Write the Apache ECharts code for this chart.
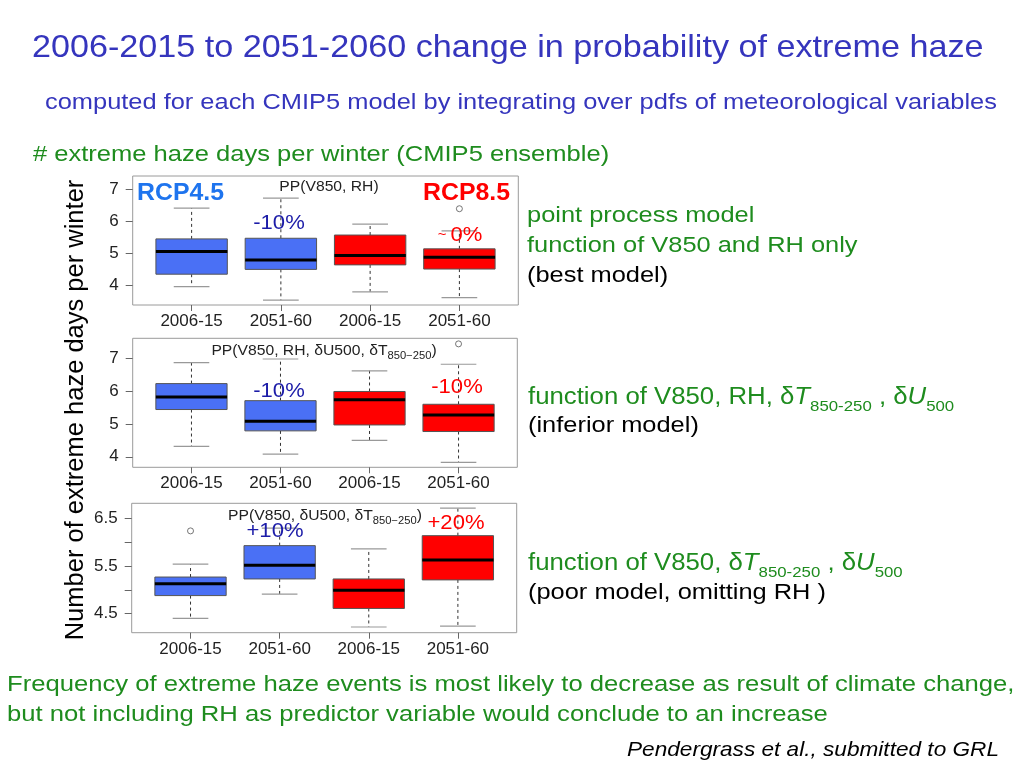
<!DOCTYPE html>
<html>
<head>
<meta charset="utf-8">
<script src="https://cdn.jsdelivr.net/npm/echarts@6/dist/echarts.min.js"></script>
<style>html,body{margin:0;padding:0;background:#fff}#c{width:1024px;height:768px}</style>
</head>
<body>
<div id="c"></div>
<script>
// ---- data ----
const categories = ['2006-15', '2051-60', '2006-15', '2051-60'];
const positions = [1, 2, 3, 4];
// each box: [min, q1, median, q3, max]
const panel1Stats = [[3.97, 4.36, 5.07, 5.46, 6.42], [3.55, 4.51, 4.80, 5.48, 6.73], [3.81, 4.65, 4.94, 5.58, 5.92], [3.63, 4.52, 4.89, 5.15, 5.71]];
const panel2Stats = [[4.32, 5.44, 5.82, 6.23, 6.87], [4.08, 4.79, 5.08, 5.71, 6.98], [4.50, 4.97, 5.74, 5.99, 6.62], [3.83, 4.77, 5.27, 5.60, 6.82]];
const panel3Stats = [[4.40, 4.88, 5.13, 5.27, 5.54], [4.91, 5.23, 5.52, 5.93, 6.30], [4.22, 4.61, 4.99, 5.23, 5.86], [4.24, 5.21, 5.63, 6.14, 6.72]];
const panel1Outliers = [[4, 6.40]];
const panel2Outliers = [[4, 7.44]];
const panel3Outliers = [[1, 6.24]];
const panel1Ticks = [4, 5, 6, 7];
const panel2Ticks = [4, 5, 6, 7];
const panel3Ticks = [4.5, 5, 5.5, 6, 6.5];
const panel3Labels = [4.5, 5.5, 6.5];
const changeLabels = [['-10%', '~ 0%'], ['-10%', '-10%'], ['+10%', '+20%']];

// ---- style ----
const BLUE = '#4a70f5', RED = '#ff0000';
const GREEN = '#1e8c1e', TITLE = '#3535bd', DBLUE = '#1c1ca8';
const FF = "'Liberation Sans', Arial, Helvetica, sans-serif";
const SX = 1.12;

const chart = echarts.init(document.getElementById('c'), null, {renderer: 'canvas'});

function renderBox(params, api) {
  const x = api.value(0);
  const mn = api.value(1), q1 = api.value(2), md = api.value(3), q3 = api.value(4), mx = api.value(5);
  const w = api.size([0.8, 0])[0];
  const half = w / 2, cap = w / 4;
  const pMin = api.coord([x, mn]), pQ1 = api.coord([x, q1]), pMd = api.coord([x, md]);
  const pQ3 = api.coord([x, q3]), pMax = api.coord([x, mx]);
  const cx = pMd[0];
  const color = api.visual('color');
  const dash = {stroke: '#333', lineWidth: 1, lineDash: [3, 3]};
  const capS = {stroke: '#999', lineWidth: 1.2};
  return {
    type: 'group',
    children: [
      {type: 'line', shape: {x1: cx, y1: pQ3[1], x2: cx, y2: pMax[1]}, style: dash},
      {type: 'line', shape: {x1: cx, y1: pQ1[1], x2: cx, y2: pMin[1]}, style: dash},
      {type: 'line', shape: {x1: cx - cap, y1: pMax[1], x2: cx + cap, y2: pMax[1]}, style: capS},
      {type: 'line', shape: {x1: cx - cap, y1: pMin[1], x2: cx + cap, y2: pMin[1]}, style: capS},
      {type: 'rect', shape: {x: cx - half, y: pQ3[1], width: w, height: pQ1[1] - pQ3[1]},
        style: {fill: color, stroke: '#555', lineWidth: 1}},
      {type: 'line', shape: {x1: cx - half, y1: pMd[1], x2: cx + half, y2: pMd[1]},
        style: {stroke: '#000', lineWidth: 3}}
    ]
  };
}

const grids = [
  {left: 132.7, top: 176, width: 385.6, height: 129},
  {left: 132.7, top: 338.3, width: 384.6, height: 129},
  {left: 131.7, top: 503.3, width: 385, height: 129.4}
];
const yRanges = [[3.40, 7.42], [3.68, 7.61], [4.10, 6.82]];
const yTicks = [panel1Ticks, panel2Ticks, panel3Ticks];
const yLabels = [panel1Ticks, panel2Ticks, panel3Labels];
const stats = [panel1Stats, panel2Stats, panel3Stats];
const outliers = [panel1Outliers, panel2Outliers, panel3Outliers];

const option = {
  animation: false,
  backgroundColor: '#fff',
  grid: grids.map(g => Object.assign({show: true, borderColor: '#9a9a9a', borderWidth: 1, backgroundColor: 'transparent'}, g)),
  xAxis: grids.map((g, i) => ({
    type: 'value', gridIndex: i, min: 0.34, max: 4.66,
    axisLine: {show: false},
    splitLine: {show: false},
    axisTick: {show: true, length: 6, customValues: positions, lineStyle: {color: '#666'}},
    axisLabel: {customValues: positions, formatter: v => categories[Math.round(v) - 1],
      fontSize: 17, color: '#222', fontFamily: FF, margin: 8}
  })),
  yAxis: grids.map((g, i) => ({
    type: 'value', gridIndex: i, min: yRanges[i][0], max: yRanges[i][1],
    axisLine: {show: false},
    splitLine: {show: false},
    axisTick: {show: true, length: 7, customValues: yTicks[i], lineStyle: {color: '#666'}},
    axisLabel: {customValues: yLabels[i], fontSize: 17, color: '#222', fontFamily: FF, margin: 14}
  })),
  series: []
};

stats.forEach((s, i) => {
  option.series.push({
    type: 'custom', xAxisIndex: i, yAxisIndex: i, renderItem: renderBox,
    itemStyle: {color: BLUE},
    data: s.slice(0, 2).map((b, j) => [positions[j]].concat(b))
  });
  option.series.push({
    type: 'custom', xAxisIndex: i, yAxisIndex: i, renderItem: renderBox,
    itemStyle: {color: RED},
    data: s.slice(2, 4).map((b, j) => [positions[j + 2]].concat(b))
  });
  option.series.push({
    type: 'scatter', xAxisIndex: i, yAxisIndex: i, symbol: 'circle', symbolSize: 6,
    itemStyle: {color: 'rgba(0,0,0,0)', borderColor: '#555', borderWidth: 1},
    data: outliers[i]
  });
});

function txt(x, y, text, opt) {
  opt = opt || {};
  return {
    type: 'text', x: x, y: y, scaleX: opt.scaleX !== undefined ? opt.scaleX : SX,
    rotation: opt.rotation || 0, z: 100,
    style: Object.assign({
      text: text, fill: opt.fill || '#000', fontSize: opt.fontSize || 23,
      fontFamily: FF, fontWeight: opt.fontWeight || 'normal', fontStyle: opt.fontStyle || 'normal',
      align: opt.align || 'left', verticalAlign: 'middle',
      textAlign: opt.align || 'left', textVerticalAlign: 'middle'
    }, opt.rich ? {rich: opt.rich} : {})
  };
}

function subRich(fill, size, subSize) {
  return {
    n: {fill: fill, color: fill, fontSize: size, fontFamily: FF, lineHeight: Math.round(size * 1.4)},
    i: {fill: fill, color: fill, fontSize: size, fontFamily: FF, fontStyle: 'italic', lineHeight: Math.round(size * 1.4)},
    s: {fill: fill, color: fill, fontSize: subSize, fontFamily: FF, lineHeight: subSize + 1, verticalAlign: 'bottom'}
  };
}

const ann = subRich(GREEN, 23, 15);
const pt = subRich('#222', 14, 10);

option.graphic = [
  txt(32, 49, '2006-2015 to 2051-2060 change in probability of extreme haze', {fill: TITLE, fontSize: 30.5}),
  txt(45, 103, 'computed for each CMIP5 model by integrating over pdfs of meteorological variables', {fill: TITLE, fontSize: 22.7}),
  txt(33, 155, '# extreme haze days per winter (CMIP5 ensemble)', {fill: GREEN, fontSize: 22.8}),
  txt(76, 410, 'Number of extreme haze days per winter', {fontSize: 25.5, align: 'center', rotation: Math.PI / 2, scaleX: 1}),

  txt(527, 216, 'point process model', {fill: GREEN, fontSize: 22.7}),
  txt(527, 246, 'function of V850 and RH only', {fill: GREEN, fontSize: 22.7}),
  txt(527, 276, '(best model)', {fill: '#000', fontSize: 22.7}),
  txt(528, 398, '{n|function of V850, RH, δ}{i|T}{s|850-250}{n| , δ}{i|U}{s|500}', {fill: GREEN, rich: ann}),
  txt(528, 426, '(inferior model)', {fill: '#000', fontSize: 22.7}),
  txt(528, 564, '{n|function of V850, δ}{i|T}{s|850-250}{n| , δ}{i|U}{s|500}', {fill: GREEN, rich: ann}),
  txt(528, 593, '(poor model, omitting RH )', {fill: '#000', fontSize: 22.7}),

  txt(7, 685, 'Frequency of extreme haze events is most likely to decrease as result of climate change,', {fill: GREEN, fontSize: 22.9}),
  txt(7, 715, 'but not including RH as predictor variable would conclude to an increase', {fill: GREEN, fontSize: 22.9}),
  txt(627, 750, 'Pendergrass et al., submitted to GRL', {fill: '#000', fontSize: 20.2, fontStyle: 'italic'}),

  // panel titles
  txt(329, 187, 'PP(V850, RH)', {fill: '#222', fontSize: 14, align: 'center'}),
  txt(324, 351, '{n|PP(V850, RH, δU500, δ}{n|T}{s|850−250}{n|)}', {fill: '#222', align: 'center', rich: pt}),
  txt(325, 516, '{n|PP(V850, δU500, δ}{n|T}{s|850−250}{n|)}', {fill: '#222', align: 'center', rich: pt}),

  // scenario labels
  txt(137, 194, 'RCP4.5', {fill: '#1e74ee', fontSize: 23, fontWeight: 'bold', scaleX: 1.08}),
  txt(423, 194, 'RCP8.5', {fill: '#ff0000', fontSize: 23, fontWeight: 'bold', scaleX: 1.08}),

  // change labels
  txt(279, 223, changeLabels[0][0], {fill: DBLUE, fontSize: 21, align: 'center', scaleX: 1.05}),
  txt(460, 235, '{t|~ }{p|' + changeLabels[0][1].replace('~ ', '') + '}', {fill: RED, align: 'center', scaleX: 1.05,
    rich: {t: {fill: RED, color: RED, fontSize: 14, fontFamily: FF}, p: {fill: RED, color: RED, fontSize: 21, fontFamily: FF}}}),
  txt(279, 391, changeLabels[1][0], {fill: DBLUE, fontSize: 21, align: 'center', scaleX: 1.05}),
  txt(457, 387, changeLabels[1][1], {fill: RED, fontSize: 21, align: 'center', scaleX: 1.05}),
  txt(275, 531, changeLabels[2][0], {fill: DBLUE, fontSize: 21, align: 'center', scaleX: 1.05}),
  txt(456, 523, changeLabels[2][1], {fill: RED, fontSize: 21, align: 'center', scaleX: 1.05})
];

chart.setOption(option);
</script>
</body>
</html>
